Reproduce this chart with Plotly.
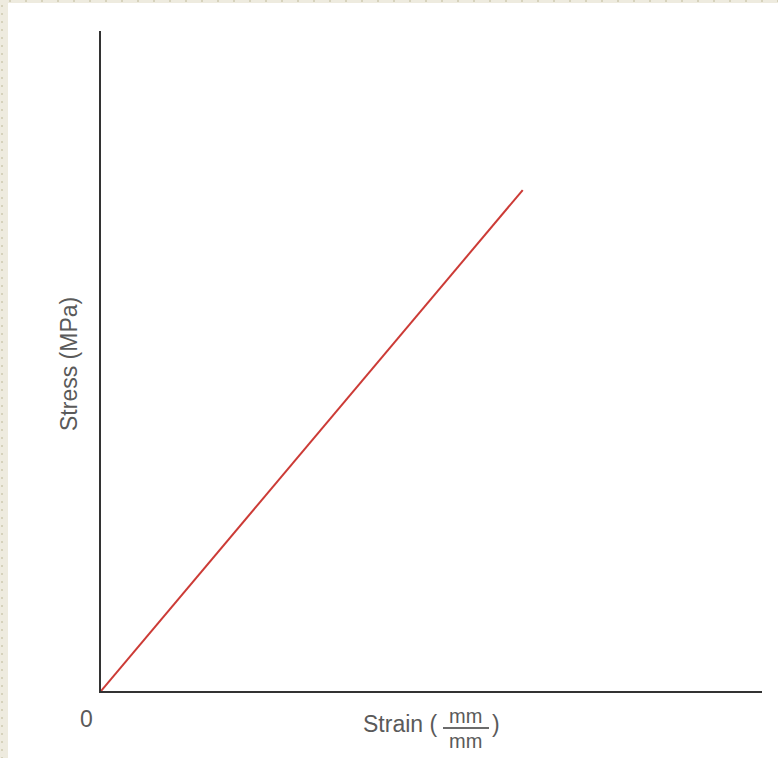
import plotly.graph_objects as go

# Data (arbitrary units, linear elastic region)
strain = [0.0, 0.638]
stress = [0.0, 0.759]
x_range = [0, 1.0]
y_range = [0, 1.0]
origin_label = "0"
x_label = "Strain ("
unit_num = "mm"
unit_den = "mm"
y_label = "Stress (MPa)"

W, H = 778, 758
L, R, T, B = 101, 16, 31, 67
pw, ph = W - L - R, H - T - B

def px(x):
    return (x - L) / pw

def py(y):
    return (H - B - y) / ph

fig = go.Figure()
fig.add_trace(go.Scatter(x=strain, y=stress, mode="lines",
                         line=dict(color="#cc3b36", width=2), hoverinfo="skip"))

font = dict(family="Liberation Sans, Arial, sans-serif", size=23, color="#5a5a5a")
unit_font = dict(family="Liberation Sans, Arial, sans-serif", size=20, color="#5a5a5a")

shapes = []
beige = "#eeebdf"
dot = "#d6d2bc"
# left strip and top strip
shapes.append(dict(type="rect", xref="paper", yref="paper", x0=px(0), x1=px(8), y0=py(H), y1=py(0),
                   fillcolor=beige, line=dict(width=0), layer="below"))
shapes.append(dict(type="rect", xref="paper", yref="paper", x0=px(0), x1=px(W), y0=py(3), y1=py(0),
                   fillcolor=beige, line=dict(width=0), layer="below"))
for yy in range(5, H, 8):
    shapes.append(dict(type="rect", xref="paper", yref="paper", x0=px(1), x1=px(3), y0=py(yy + 2), y1=py(yy),
                       fillcolor=dot, line=dict(width=0), layer="below"))
for xx in range(9, W, 16):
    shapes.append(dict(type="rect", xref="paper", yref="paper", x0=px(xx), x1=px(xx + 2), y0=py(2), y1=py(0),
                       fillcolor=dot, line=dict(width=0), layer="below"))
# fraction bar
shapes.append(dict(type="line", xref="paper", yref="paper", x0=px(443), x1=px(489), y0=py(728), y1=py(728),
                   line=dict(color="#3a3a3a", width=1.5)))

annotations = [
    dict(text=origin_label, xref="paper", yref="paper", x=px(86), y=py(719), showarrow=False,
         font=font, xanchor="center", yanchor="middle"),
    dict(text=x_label, xref="paper", yref="paper", x=px(439), y=py(724), showarrow=False,
         font=font, xanchor="right", yanchor="middle"),
    dict(text=unit_num, xref="paper", yref="paper", x=px(466), y=py(728), showarrow=False,
         font=unit_font, xanchor="center", yanchor="bottom", borderpad=0),
    dict(text=unit_den, xref="paper", yref="paper", x=px(466), y=py(729), showarrow=False,
         font=unit_font, xanchor="center", yanchor="top", borderpad=0),
    dict(text=")", xref="paper", yref="paper", x=px(490), y=py(724), showarrow=False,
         font=font, xanchor="left", yanchor="middle"),
    dict(text=y_label, xref="paper", yref="paper", x=px(69), y=py(364), showarrow=False,
         font=font, textangle=-90, xanchor="center", yanchor="middle"),
]

fig.update_layout(
    width=W, height=H,
    margin=dict(l=L, r=R, t=T, b=B, pad=0),
    paper_bgcolor="white", plot_bgcolor="white",
    showlegend=False,
    xaxis=dict(range=x_range, showgrid=False, zeroline=False, showticklabels=False, ticks="",
               showline=True, linecolor="#333333", linewidth=2, fixedrange=True),
    yaxis=dict(range=y_range, showgrid=False, zeroline=False, showticklabels=False, ticks="",
               showline=True, linecolor="#333333", linewidth=2, fixedrange=True),
    shapes=shapes, annotations=annotations,
)

fig.write_html("out.html", config={"displayModeBar": False},
               post_script="document.body.style.margin='0';document.body.style.padding='0';document.body.style.overflow='hidden';")
